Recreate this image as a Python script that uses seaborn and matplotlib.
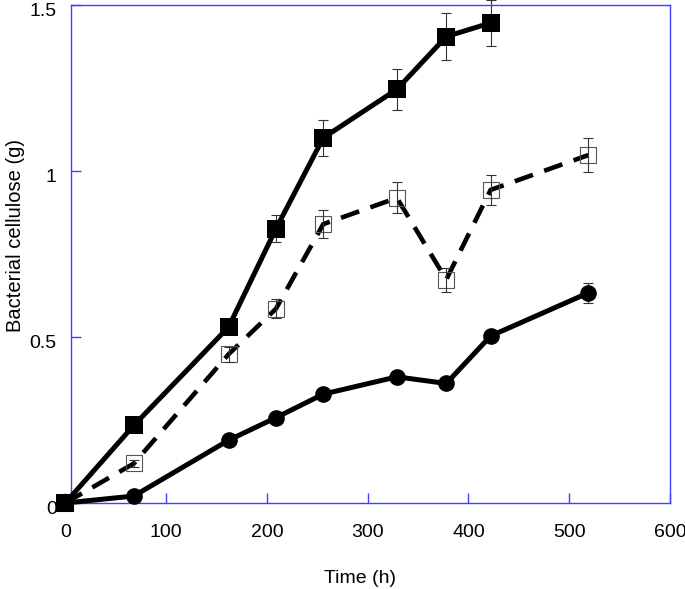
import numpy as np
import pandas as pd
import seaborn as sns
import matplotlib
matplotlib.use("Agg")
import matplotlib.pyplot as plt
import matplotlib.transforms as mtransforms


# Valores
tempo = [0, 68, 162, 209, 256, 329, 378, 422, 519]

celulose_cheio = [0, 0.234, 0.530, 0.826, 1.100, 1.246, 1.405, 1.446]
erro_cheio = [0, 0.01, 0.012, 0.04, 0.055, 0.062, 0.07, 0.068]

celulose_vazio = [0, 0.119, 0.448, 0.585, 0.840, 0.919, 0.673, 0.943, 1.048]
erro_vazio = [0, 0.01, 0.023, 0.028, 0.042, 0.047, 0.036, 0.046, 0.052]

celulose_circulo = [0, 0.021, 0.189, 0.257, 0.328, 0.380, 0.360, 0.503, 0.633]
erro_circulo = [0, 0.005, 0.008, 0.008, 0.01, 0.01, 0.01, 0.012, 0.03]

AZUL = "#4040ff"

sns.set_theme(style="white")
plt.rcParams["font.family"] = ["Liberation Sans", "DejaVu Sans"]

df_cheio = pd.DataFrame({"tempo": tempo[:len(celulose_cheio)], "celulose": celulose_cheio})
df_vazio = pd.DataFrame({"tempo": tempo, "celulose": celulose_vazio})
df_circulo = pd.DataFrame({"tempo": tempo, "celulose": celulose_circulo})

fig = plt.figure(figsize=(6.85, 5.89), dpi=100)
ax = fig.add_axes([65.3 / 685, 86 / 589, 604.7 / 685, 498 / 589])

# Barras de erro finas
ax.errorbar(df_vazio["tempo"], df_vazio["celulose"], yerr=erro_vazio, fmt="none",
            ecolor="#333333", elinewidth=0.8, capsize=3.8, capthick=0.8, zorder=4, clip_on=False)
ax.errorbar(df_cheio["tempo"], df_cheio["celulose"], yerr=erro_cheio, fmt="none",
            ecolor="#333333", elinewidth=0.8, capsize=3.8, capthick=0.8, zorder=2, clip_on=False)
ax.errorbar(df_circulo["tempo"], df_circulo["celulose"], yerr=erro_circulo, fmt="none",
            ecolor="#333333", elinewidth=0.8, capsize=3.8, capthick=0.8, zorder=2, clip_on=False)

sns.lineplot(data=df_circulo, x="tempo", y="celulose", ax=ax, color="black",
             linewidth=3.6, marker="o", markersize=12, markeredgewidth=0,
             zorder=3, clip_on=False)
sns.lineplot(data=df_vazio, x="tempo", y="celulose", ax=ax, color="black",
             linewidth=3.3, linestyle=(0, (4.2, 2.6)), marker="s", markersize=12,
             markerfacecolor="none", markeredgecolor="#555555", markeredgewidth=0.8,
             zorder=3, clip_on=False)
sns.lineplot(data=df_cheio, x="tempo", y="celulose", ax=ax, color="black",
             linewidth=3.6, marker="s", markersize=12.5, markeredgewidth=0,
             zorder=5, clip_on=False)

ax.set_xlim(0, 600)
ax.set_ylim(0, 1.5)
ax.set_xticks([0, 100, 200, 300, 400, 500, 600])
ax.set_yticks([0, 0.5, 1, 1.5])
ax.set_yticklabels(["0", "0.5", "1", "1.5"])

for lado in ["left", "right", "top", "bottom"]:
    ax.spines[lado].set_color(AZUL)
    ax.spines[lado].set_linewidth(1.0)
ax.spines["left"].set_position(("data", 6))
ax.spines["top"].set_bounds(6, 600)
ax.spines["bottom"].set_bounds(6, 600)

ax.tick_params(axis="both", direction="in", length=7, width=1, color=AZUL,
               labelsize=14, labelcolor="black")
ax.tick_params(axis="x", pad=15, bottom=True)
ax.tick_params(axis="y", pad=10.5, left=True)

# Rótulos do eixo y ficam um pouco abaixo das marcas no original
desloca = mtransforms.ScaledTranslation(0, -3 / 72, fig.dpi_scale_trans)
for rotulo in ax.get_yticklabels():
    rotulo.set_transform(rotulo.get_transform() + desloca)

ax.set_xlabel("Time (h)", fontsize=14, color="black")
ax.set_ylabel("Bacterial cellulose (g)", fontsize=14.5, color="black")
ax.xaxis.set_label_coords(0.487, -0.135)
ax.yaxis.set_label_coords(-0.066, 0.537)

fig.savefig("out.png", dpi=100)
